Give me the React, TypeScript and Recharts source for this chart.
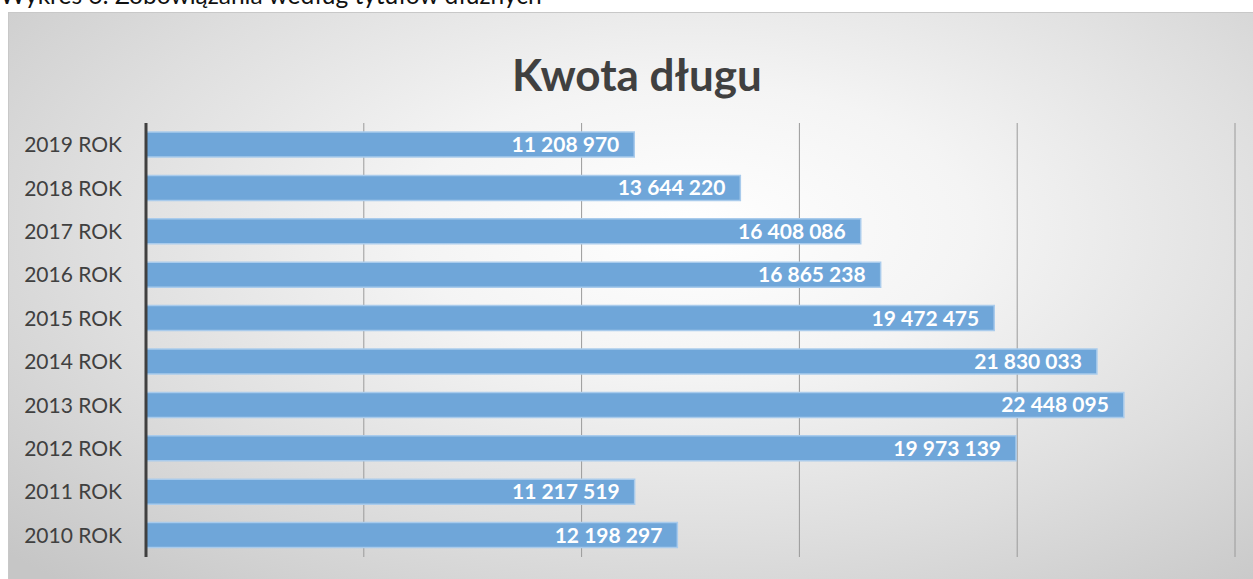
import React from "react";
import { BarChart, Bar, XAxis, YAxis, CartesianGrid, LabelList } from "recharts";

const categories = [
  "2019 ROK", "2018 ROK", "2017 ROK", "2016 ROK", "2015 ROK",
  "2014 ROK", "2013 ROK", "2012 ROK", "2011 ROK", "2010 ROK",
];
const debtValues = [
  11208970, 13644220, 16408086, 16865238, 19472475,
  21830033, 22448095, 19973139, 11217519, 12198297,
];
const xTicks = [0, 5000000, 10000000, 15000000, 20000000, 25000000];
const chartTitle = "Kwota długu";
const caption = "Wykres 6: Zobowiązania według tytułów dłużnych";

const data = categories.map((c, i) => ({ name: c, value: debtValues[i] }));

const fmt = (v: any) =>
  String(v).replace(/\B(?=(\d{3})+(?!\d))/g, " ");

const FONT = "Lato, 'Open Sans', sans-serif";

export default function App() {
  return (
    <div style={{ position: "absolute", left: 0, top: 0, width: 1253, height: 579, overflow: "hidden", fontFamily: FONT }}>
      <div style={{ position: "absolute", left: 0, top: -20, fontSize: 24.5, color: "#111", whiteSpace: "nowrap" }}>
        {caption}
      </div>
      <div
        style={{
          position: "absolute",
          left: 8,
          top: 12,
          width: 1245,
          height: 567,
          borderTop: "1px solid #c8c8c8",
          borderLeft: "1px solid #c8c8c8",
          boxSizing: "border-box",
          background:
            "radial-gradient(ellipse 75% 85% at 55% 38%, #ffffff 0%, #f4f4f4 30%, #dedede 65%, #c6c6c6 100%)",
        }}
      >
        <div style={{ position: "absolute", left: -8, top: 0 }}>
          <BarChart
            width={1253}
            height={567}
            layout="vertical"
            data={data}
            margin={{ top: 110, right: 19, bottom: 23, left: 0 }}
          >
            <text x={636} y={78} textAnchor="middle" fontFamily={FONT} fontWeight={700} fontSize={44} fill="#404040">
              {chartTitle}
            </text>
            <CartesianGrid horizontal={false} vertical stroke="#9a9a9a" strokeWidth={1} />
            <XAxis type="number" domain={[0, 25000000]} ticks={xTicks} hide />
            <YAxis
              type="category"
              dataKey="name"
              width={145}
              tickSize={0}
              tickMargin={24}
              tickLine={false}
              axisLine={{ stroke: "#404040", strokeWidth: 3 }}
              tick={{ fill: "#404040", fontSize: 21, fontFamily: FONT }}
            />
            <Bar dataKey="value" barSize={25} fill="#6fa6d9" stroke="#a9cbec" strokeWidth={1.5} isAnimationActive={false}>
              <LabelList
                dataKey="value"
                position="insideRight"
                offset={15}
                formatter={fmt}
                fill="#ffffff"
                fontWeight={700}
                fontSize={21}
                fontFamily={FONT}
              />
            </Bar>
          </BarChart>
        </div>
      </div>
    </div>
  );
}
